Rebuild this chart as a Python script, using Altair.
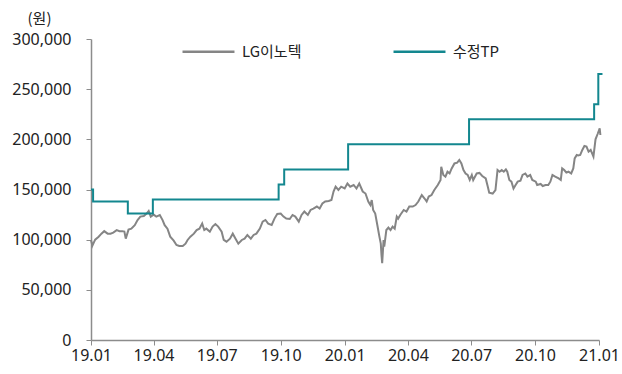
import altair as alt
import pandas as pd

# LG이노텍 price: (days since 2019-01-01, price in 원)
price_days = [0, 1, 2, 6, 11, 15, 19, 24, 28, 32, 37, 41, 45, 48, 50, 54, 58, 63, 67, 71,
              76, 80, 83, 86, 90, 94, 99, 103, 106, 110, 114, 119, 123, 127, 132, 136, 139,
              143, 148, 152, 156, 160, 163, 166, 171, 175, 179, 183, 188, 191, 195, 200, 204,
              208, 212, 217, 221, 225, 230, 234, 238, 243, 247, 251, 255, 260, 264, 268, 273,
              277, 281, 286, 290, 294, 299, 303, 307, 312, 316, 320, 325, 329, 333, 337, 342,
              346, 349, 352, 356, 360, 365, 369, 373, 378, 382, 386, 391, 395, 399, 402, 404,
              406, 409, 412, 415, 417, 418, 419, 421, 422, 425, 428, 431, 434, 437, 440, 442,
              445, 450, 454, 458, 463, 467, 471, 476, 480, 483, 486, 490, 494, 499, 503, 504,
              507, 510, 513, 516, 519, 523, 527, 530, 533, 536, 539, 542, 545, 548, 550, 555,
              559, 563, 568, 571, 573, 578, 582, 585, 588, 591, 594, 597, 599, 602, 605, 608,
              611, 614, 618, 621, 625, 628, 632, 635, 640, 642, 647, 650, 654, 658, 661, 664,
              668, 673, 676, 678, 681, 684, 687, 691, 694, 696, 699, 701, 704, 707, 710, 713,
              716, 719, 723, 726, 729, 732, 733]
price_vals = [99500, 97000, 94000, 100000, 103000, 106000, 108500, 106000, 106000, 107000,
              109500, 108500, 108500, 108000, 101000, 110000, 111000, 114500, 119500, 123000,
              123500, 126000, 128500, 123000, 125000, 123000, 124500, 119500, 114500, 111000,
              103000, 99000, 94700, 93700, 93700, 96000, 99700, 103000, 106000, 109600, 111000,
              116000, 109600, 111000, 108000, 113000, 115600, 113000, 108000, 99700, 98000,
              101000, 106000, 101000, 96000, 99700, 101000, 104700, 101000, 104700, 106000,
              111000, 118000, 119600, 116000, 114600, 121000, 125600, 126000, 123000, 121000,
              120600, 124600, 123000, 118000, 124600, 128000, 124600, 129600, 131000, 133000,
              131000, 136000, 138000, 138600, 139500, 148000, 152800, 149500, 152800, 151000,
              156000, 152800, 154500, 151000, 156000, 148000, 146000, 138000, 134500, 139500,
              129600, 126000, 114600, 103000, 96000, 84700, 76500, 99700, 93000, 109600,
              112000, 109600, 113000, 111000, 123000, 121000, 124600, 129600, 128000, 133000,
              133000, 134500, 138000, 144500, 141000, 138000, 143000, 144500, 149500, 154500,
              159500, 172700, 164500, 162800, 167700, 166000, 171000, 176000, 176700, 179400,
              176000, 169400, 166000, 164500, 159500, 164500, 159500, 166000, 166500, 163500,
              161000, 152800, 146800, 146000, 149500, 169400, 167700, 169400, 167700, 170000,
              167700, 159500, 157800, 151000, 154500, 157800, 158800, 164500, 166000, 162800,
              164500, 159500, 157800, 154500, 155500, 153500, 154500, 154500, 157800, 164500,
              162800, 161000, 159500, 171000, 169400, 166800, 167700, 166000, 171000, 181000,
              184400, 184000, 184400, 189400, 193400, 192700, 187700, 189400, 182700, 200000,
              205300, 211000, 204300]

# 수정TP (target price) steps: (days since 2019-01-01, target)
tp_days = [0, 3, 53, 89, 270, 278, 370, 544, 724, 730, 736]
tp_vals = [150000, 138000, 126000, 140000, 155000, 170000, 195000, 220000, 235000, 265000, 265000]

series_names = ["LG이노텍", "수정TP"]
series_colors = ["#858585", "#13878f"]
y_ticks = [0, 50000, 100000, 150000, 200000, 250000, 300000]
x_tick_months = [(2019, 1), (2019, 4), (2019, 7), (2019, 10), (2020, 1),
                 (2020, 4), (2020, 7), (2020, 10), (2021, 1)]

base = pd.Timestamp("2019-01-01")
price_df = pd.DataFrame({
    "date": [(base + pd.Timedelta(days=d)).strftime("%Y-%m-%d") for d in price_days],
    "value": price_vals,
    "series": series_names[0],
})
tp_df = pd.DataFrame({
    "date": [(base + pd.Timedelta(days=d)).strftime("%Y-%m-%d") for d in tp_days],
    "value": tp_vals,
    "series": series_names[1],
})

FONT = "Noto Sans, Noto Sans CJK KR"
KFONT = "Noto Sans CJK KR"

x_enc = alt.X(
    "date:T",
    scale=alt.Scale(type="utc",
                    domain=[alt.DateTime(year=2019, month=1, date=1, utc=True),
                            alt.DateTime(year=2021, month=1, date=1, utc=True)]),
    axis=alt.Axis(
        values=[alt.DateTime(year=y, month=m, date=1, utc=True) for y, m in x_tick_months],
        labelExpr="utcFormat(datum.value, '%y.%m')", title=None, grid=False,
        domainColor="#8c8c8c", tickColor="#8c8c8c", tickSize=5, domainWidth=1.5,
        labelFont=FONT, labelFontSize=16, labelColor="#222222", labelPadding=2,
        labelFlush=False,
    ),
)
y_enc = alt.Y(
    "value:Q",
    scale=alt.Scale(domain=[0, 300000], nice=False),
    axis=alt.Axis(
        values=y_ticks, labelExpr="format(datum.value, ',')", grid=False, title="(원)",
        titleAngle=0, titleX=-52, titleY=-21, titleAlign="center", titleBaseline="middle",
        titleFont=KFONT, titleFontSize=15, titleFontWeight="normal", titleColor="#222222",
        domainColor="#8c8c8c", tickColor="#8c8c8c", tickSize=5, domainWidth=1.5,
        labelFont=FONT, labelFontSize=16, labelColor="#222222", labelPadding=15,
    ),
)
color_enc = alt.Color(
    "series:N",
    scale=alt.Scale(domain=series_names, range=series_colors),
    legend=alt.Legend(
        title=None, orient="none", direction="horizontal", legendX=90, legendY=-15,
        symbolType="stroke", symbolSize=2700, symbolStrokeWidth=2.5,
        labelFont=KFONT, labelFontSize=15, labelColor="#222222", labelOffset=6,
        columnPadding=86,
    ),
)

price_line = alt.Chart(price_df).mark_line(strokeWidth=2).encode(
    x=x_enc, y=y_enc, color=color_enc
)
tp_line = alt.Chart(tp_df).mark_line(strokeWidth=2, interpolate="step-after").encode(
    x=x_enc, y=y_enc, color=color_enc
)

chart = alt.layer(price_line, tp_line).properties(
    width=508, height=301,
    autosize=alt.AutoSizeParams(type="none"),
    padding={"left": 91, "top": 39, "right": 23, "bottom": 34},
).configure_view(stroke=None)

chart.save("out.html", embed_options={"renderer": "svg", "actions": False})
